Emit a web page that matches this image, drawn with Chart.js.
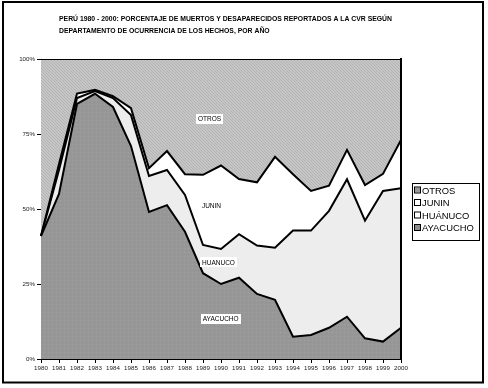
<!DOCTYPE html>
<html>
<head>
<meta charset="utf-8">
<script src="https://cdn.jsdelivr.net/npm/chart.js@4.4.1/dist/chart.umd.min.js"></script>
<style>
html,body{margin:0;padding:0;background:#fff;}
#wrap{position:relative;width:488px;height:388px;}
canvas{display:block;}
</style>
</head>
<body>
<div id="wrap"><canvas id="c" width="488" height="388"></canvas></div>
<script>
// ---- data ----
const years = ['1980','1981','1982','1983','1984','1985','1986','1987','1988','1989','1990','1991','1992','1993','1994','1995','1996','1997','1998','1999','2000'];
const ayacucho = [41, 55, 85, 88.4, 84, 71, 49, 51.3, 42.4, 28.6, 25, 27.1, 21.7, 19.7, 7.4, 8, 10.4, 14.1, 6.9, 5.8, 10.4];
const huanuco  = [0, 8, 2, 0.9, 3, 10.3, 12, 11.7, 12.3, 9.4, 11.7, 14.5, 16.1, 17.4, 35.4, 34.8, 39, 45.8, 39.2, 50.2, 46.5];
const junin    = [0, 2, 1.5, 0.4, 0.6, 2.3, 2.6, 6.3, 6.9, 23.4, 27.8, 18.4, 21.1, 30.3, 18.8, 13.2, 8.4, 9.8, 11.9, 5.7, 16.1];
const otros    = [59, 35, 11.5, 10.3, 12.4, 16.4, 36.4, 30.7, 38.4, 38.6, 35.5, 40, 41.1, 32.6, 38.4, 44, 42.2, 30.3, 42, 38.3, 27];
const seriesNames = ['AYACUCHO', 'HUÁNUCO', 'JUNIN', 'OTROS'];
const legendOrder = ['OTROS', 'JUNIN', 'HUÁNUCO', 'AYACUCHO'];
const yTickValues = [0, 25, 50, 75, 100];
const titleLines = ['PERÚ 1980 - 2000: PORCENTAJE DE MUERTOS Y DESAPARECIDOS REPORTADOS A LA CVR SEGÚN',
                    'DEPARTAMENTO DE OCURRENCIA DE LOS HECHOS, POR AÑO'];
// in-chart area labels: text, x position (category index), y value (%)
const areaLabelText = ['OTROS', 'JUNIN', 'HUANUCO', 'AYACUCHO'];
const areaLabelX = [9.36, 9.47, 9.86, 9.98];
const areaLabelY = [80, 51, 32.2, 13.3];

// ---- fills ----
function makePattern(base, dots, size) {
  const c = document.createElement('canvas');
  c.width = size; c.height = size;
  const g = c.getContext('2d');
  g.fillStyle = base; g.fillRect(0, 0, size, size);
  dots.forEach(d => { g.fillStyle = d[2]; g.fillRect(d[0], d[1], 1, 1); });
  return g.createPattern(c, 'repeat');
}
const ctx0 = document.getElementById('c').getContext('2d');
const hatch = makePattern('#c6c6c6', [[0,0,'#b3b3b3'],[1,1,'#b3b3b3'],[2,2,'#b3b3b3']], 3);
const dotted = makePattern('#979797', [[0,0,'#a1a1a1'],[2,2,'#909090']], 4);
const fills = [dotted, '#ededed', '#ffffff', hatch];
const swatch = {'OTROS': '#9a9a9a', 'JUNIN': '#ffffff', 'HUÁNUCO': '#ffffff', 'AYACUCHO': '#8c8c8c'};
const seriesData = [ayacucho, huanuco, junin, otros];

const FONT = "'Liberation Sans', Arial, sans-serif";

const decorPlugin = {
  id: 'decor',
  afterDraw(chart) {
    const ctx = chart.ctx;
    const ca = chart.chartArea;
    const xs = chart.scales.x, ys = chart.scales.y;
    ctx.save();
    // right edge of plot
    ctx.strokeStyle = '#000'; ctx.lineWidth = 2;
    ctx.beginPath(); ctx.moveTo(ca.right, ca.top - 1); ctx.lineTo(ca.right, ca.bottom); ctx.stroke();
    // area labels
    ctx.font = '6.5px ' + FONT;
    ctx.textBaseline = 'middle'; ctx.textAlign = 'center';
    areaLabelText.forEach((t, i) => {
      const x = xs.getPixelForValue(areaLabelX[i]);
      const y = ys.getPixelForValue(areaLabelY[i]);
      const w = ctx.measureText(t).width;
      ctx.fillStyle = '#fff';
      ctx.fillRect(Math.round(x - w / 2 - 2), Math.round(y - 5), Math.round(w + 4), 10);
      ctx.fillStyle = '#000';
      ctx.fillText(t, x, y + 0.5);
    });
    // title
    ctx.textAlign = 'left';
    ctx.font = 'bold 7.2px ' + FONT;
    const w1 = ctx.measureText(titleLines[0]).width;
    const sx = 333 / w1;
    [19, 31].forEach((yy, i) => {
      ctx.save(); ctx.translate(59, yy); ctx.scale(sx, 1);
      ctx.fillText(titleLines[i], 0, 0);
      ctx.restore();
    });
    // legend
    const lx = 412.5, ly = 183.5, lw = 67, lh = 57;
    ctx.fillStyle = '#fff'; ctx.fillRect(lx, ly, lw, lh);
    ctx.strokeStyle = '#000'; ctx.lineWidth = 1; ctx.strokeRect(lx, ly, lw, lh);
    ctx.font = '9.4px ' + FONT;
    legendOrder.forEach((name, i) => {
      const y = 190.5 + i * 12.5;
      ctx.fillStyle = swatch[name];
      ctx.fillRect(415, y - 3, 5, 5);
      ctx.strokeStyle = '#000'; ctx.lineWidth = 1;
      ctx.strokeRect(414.5, y - 3.5, 6, 6);
      ctx.fillStyle = '#000';
      ctx.fillText(name, 422, y + 0.5);
    });
    // outer frame
    ctx.lineWidth = 2; ctx.strokeStyle = '#000';
    ctx.strokeRect(3, 2, 480, 380.5);
    ctx.restore();
  }
};

new Chart(document.getElementById('c'), {
  type: 'line',
  data: {
    labels: years,
    datasets: seriesNames.map((n, i) => ({
      label: n,
      data: seriesData[i],
      backgroundColor: fills[i],
      borderColor: '#000',
      borderWidth: 2,
      pointRadius: 0,
      tension: 0,
      fill: i === 0 ? 'origin' : '-1'
    }))
  },
  options: {
    responsive: false,
    animation: false,
    devicePixelRatio: 1,
    layout: { padding: { top: 59, right: 87, left: 0, bottom: 0 } },
    plugins: { legend: { display: false }, title: { display: false }, tooltip: { enabled: false } },
    scales: {
      x: {
        offset: false,
        grid: { display: true, drawOnChartArea: false, drawTicks: true, tickLength: 4, color: '#000' },
        border: { display: true, color: '#000', width: 1 },
        ticks: { autoSkip: false, maxRotation: 0, minRotation: 0, padding: 2, color: '#222', font: { size: 6.2, family: FONT } },
        afterFit(s) { s.height = 29; }
      },
      y: {
        stacked: true,
        min: 0, max: 100,
        afterBuildTicks(s) { s.ticks = yTickValues.map(v => ({ value: v })); },
        grid: { display: true, drawOnChartArea: false, drawTicks: true, tickLength: 4, color: '#000' },
        border: { display: true, color: '#000', width: 1 },
        ticks: { padding: 2, color: '#222', font: { size: 6.2, family: FONT }, callback: v => v + '%' },
        afterFit(s) { s.width = 41; }
      }
    }
  },
  plugins: [decorPlugin]
});
</script>
</body>
</html>
